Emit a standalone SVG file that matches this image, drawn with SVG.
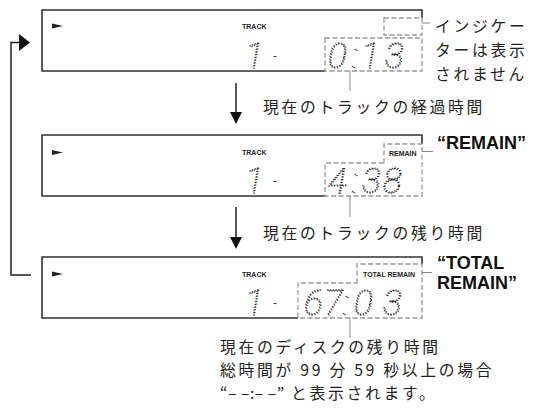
<svg xmlns="http://www.w3.org/2000/svg" width="547" height="409" viewBox="0 0 547 409">
<style>
.box{fill:none;stroke:#333;stroke-width:1.6}
.dash{fill:none;stroke:#999;stroke-width:1.3;stroke-dasharray:5 2.5}
.lead{fill:none;stroke:#888;stroke-width:1}
.conn{fill:none;stroke:#222;stroke-width:1.5}
.lbl{font-family:"Liberation Sans",Arial,sans-serif;font-weight:bold;font-size:7px;fill:#222}
.jp{font-family:"Noto Sans CJK JP",sans-serif;font-size:15.8px;letter-spacing:2.7px;fill:#231f20}
.big{font-family:"Liberation Sans",Arial,sans-serif;font-weight:bold;font-size:18px;fill:#111}
.seg{font-family:Roboto,sans-serif;font-weight:100;font-style:italic;font-size:35px;fill:none;stroke:#222;stroke-width:1.3;stroke-dasharray:1.1 1.7}
.dsh{font-family:"Liberation Sans",Arial,sans-serif;font-size:12px;fill:#333}
</style>
<g id="display1">
<path class="box" d="M422,18 V10 H42 V71 H325"/>
<rect class="dash" x="384" y="18" width="38" height="17"/>
<rect class="dash" x="325" y="38" width="97" height="33"/>
<polygon points="52,23.5 63,26 52,28.5" fill="#222"/>
<text class="lbl" x="242" y="29">TRACK</text>
<text class="seg" x="245" y="68">1</text>
<text class="dsh" x="273" y="60">-</text>
<text class="seg" x="328 352 361 385" y="68">0:13</text>
</g>
<g id="display2">
<path class="box" d="M422,144 V135 H42 V196 H325"/>
<path class="dash" d="M384,163 V144 H422 V196 H325 V163 Z"/>
<polygon points="52,150 63,152.5 52,155" fill="#222"/>
<text class="lbl" x="242" y="155">TRACK</text>
<text class="lbl" x="389" y="156">REMAIN</text>
<text class="seg" x="245" y="193">1</text>
<text class="dsh" x="273" y="185">-</text>
<text class="seg" x="328 352 362 383" y="193">4:38</text>
</g>
<g id="display3">
<path class="box" d="M422,264 V257 H42 V318 H298"/>
<path class="dash" d="M357,283 V264 H422 V318 H298 V283 Z"/>
<polygon points="52,271.5 63,274 52,276.5" fill="#222"/>
<text class="lbl" x="242" y="277">TRACK</text>
<text class="lbl" x="363" y="277">TOTAL REMAIN</text>
<text class="seg" x="245" y="315">1</text>
<text class="dsh" x="273" y="307">-</text>
<text class="seg" x="304 324 343 354 383" y="315">67:03</text>
</g>
<g id="note1">
<text class="jp"><tspan x="435" y="32">インジケー</tspan><tspan x="435" y="56">ターは表示</tspan><tspan x="435" y="80">されません</tspan></text>
</g>
<g id="note2"><text class="big" x="437" y="149">“REMAIN”</text></g>
<g id="note3"><text class="big"><tspan x="437" y="269">“TOTAL</tspan><tspan x="437" y="289">REMAIN”</tspan></text></g>
<g id="cap1"><text class="jp" x="263" y="113">現在のトラックの経過時間</text></g>
<g id="cap2"><text class="jp" x="263" y="239">現在のトラックの残り時間</text></g>
<g id="cap3"><text class="jp"><tspan x="220" y="353">現在のディスクの残り時間</tspan><tspan x="220" y="376">総時間が 99 分 59 秒以上の場合</tspan><tspan x="220" y="399"><tspan letter-spacing="0.5">“– –:– –”</tspan> と表示されます。</tspan></text></g>
<g id="connectors">
<path class="lead" d="M422,23 H430"/>
<path class="lead" d="M422,151.5 H433"/>
<path class="lead" d="M422,272.5 H432"/>
<path class="lead" d="M350,71 V91"/>
<path class="lead" d="M350,196 V217"/>
<path class="lead" d="M350,318 V338"/>
<path class="conn" d="M236,83 V113"/>
<polygon points="230,112 242,112 236,124" fill="#111"/>
<path class="conn" d="M236,207 V238"/>
<polygon points="230,237 242,237 236,249" fill="#111"/>
<path class="conn" d="M31,275 H11 V42.5 H20"/>
<polygon points="19,34 30,42.5 19,51" fill="#111"/>
</g>
</svg>
